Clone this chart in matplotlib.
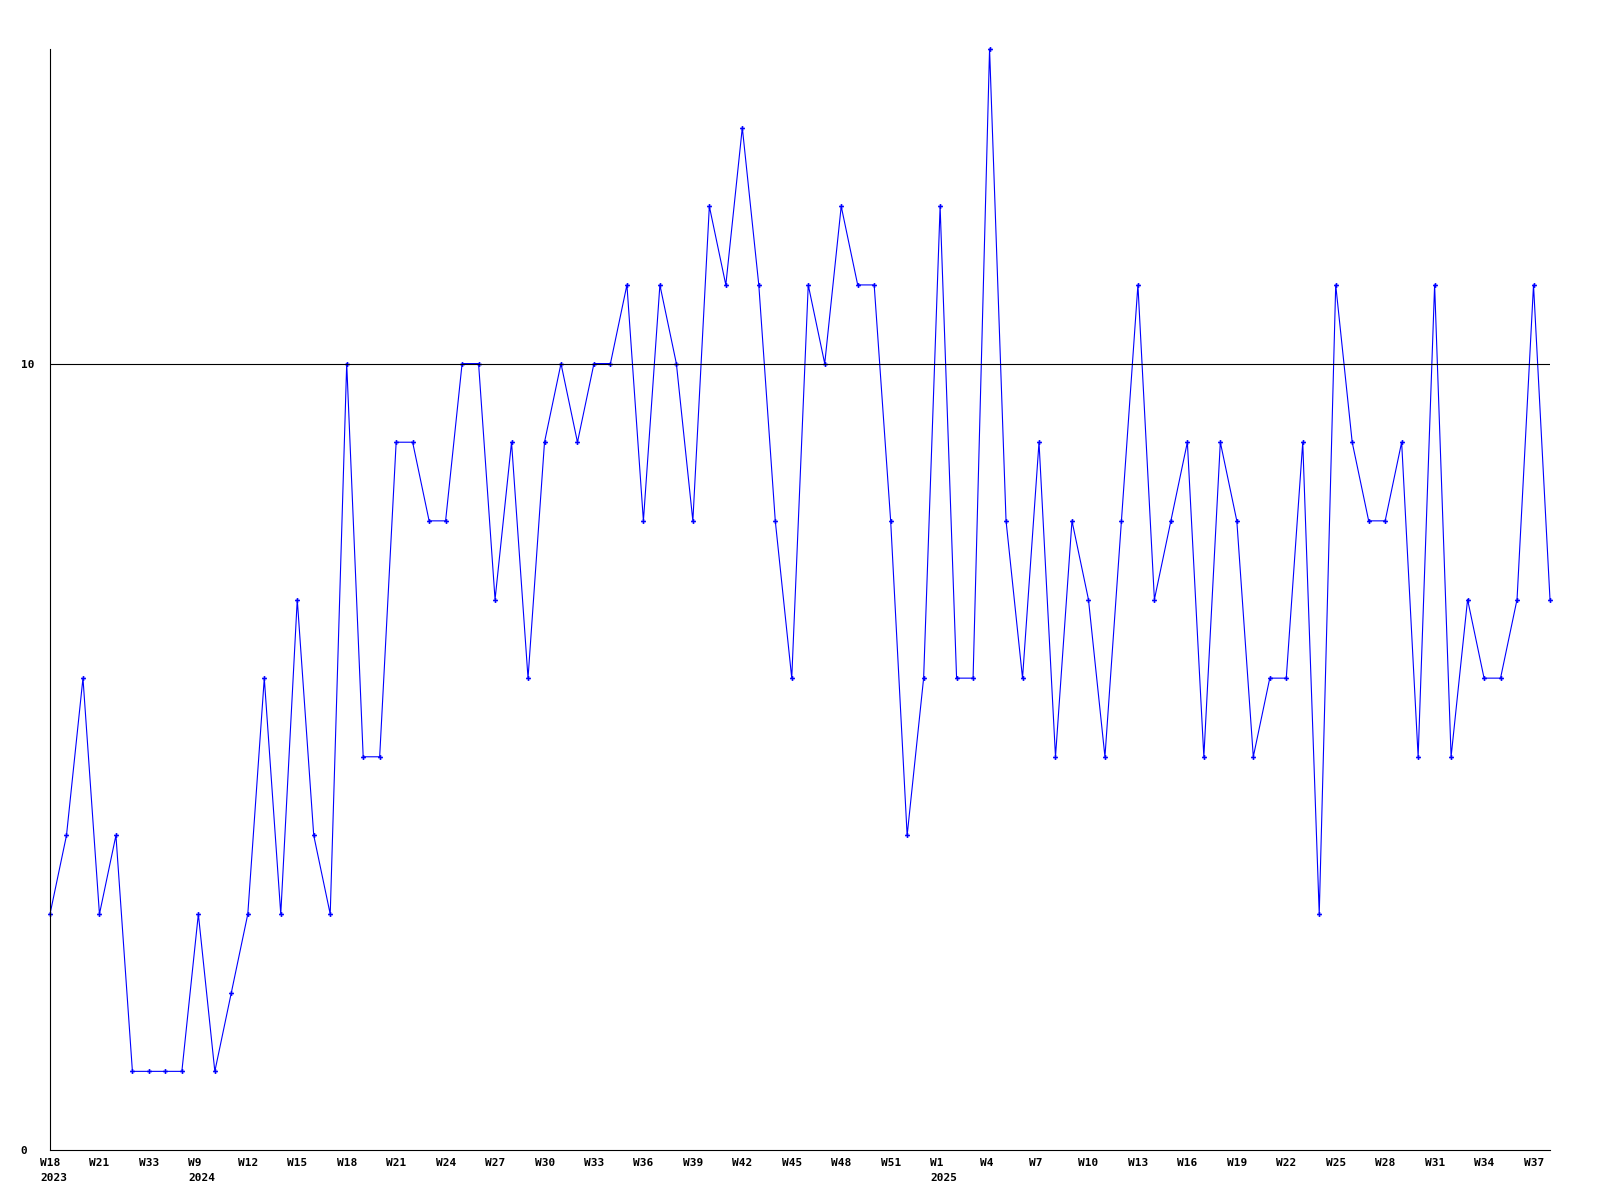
import matplotlib
matplotlib.use("Agg")
import matplotlib.pyplot as plt
from matplotlib.transforms import ScaledTranslation

# weekly counts, one point per week
values = [3, 4, 6, 3, 4, 1, 1, 1, 1, 3, 1, 2, 3, 6, 3, 7, 4, 3, 10, 5,
          5, 9, 9, 8, 8, 10, 10, 7, 9, 6, 9, 10, 9, 10, 10, 11, 8, 11, 10, 8,
          12, 11, 13, 11, 8, 6, 11, 10, 12, 11, 11, 8, 4, 6, 12, 6, 6, 14, 8, 6,
          9, 5, 8, 7, 5, 8, 11, 7, 8, 9, 5, 9, 8, 5, 6, 6, 9, 3, 11, 9,
          8, 8, 9, 5, 11, 5, 7, 6, 6, 7, 11, 7]

tick_labels = ["W18\n2023", "W21", "W33", "W9\n2024", "W12", "W15", "W18", "W21",
               "W24", "W27", "W30", "W33", "W36", "W39", "W42", "W45", "W48",
               "W51", "W1\n2025", "W4", "W7", "W10", "W13", "W16", "W19", "W22",
               "W25", "W28", "W31", "W34", "W37"]
y_ticks = [0, 10]
ref_level = 10

fig = plt.figure(figsize=(16, 12), dpi=100)
ax = fig.add_axes([50 / 1600, 50 / 1200, 1500 / 1600, 1101 / 1200])

x = list(range(len(values)))
ax.plot(x, values, color="#0000ff", linewidth=0.8, marker="P", markersize=3.5,
        markeredgewidth=0, clip_on=False)
ax.axhline(ref_level, color="black", linewidth=0.8)

ax.set_xlim(0, len(values) - 1)
ax.set_ylim(0, 14)

ax.set_xticks(x[::3][:len(tick_labels)])
ax.set_xticklabels(tick_labels, fontfamily="DejaVu Sans Mono", fontsize=8,
                   fontweight="bold", linespacing=1.6)
ax.set_yticks(y_ticks)
ax.set_yticklabels([str(v) for v in y_ticks], fontfamily="DejaVu Sans Mono",
                   fontsize=8, fontweight="bold")
ax.tick_params(axis="both", length=0)
ax.tick_params(axis="x", pad=6)
ax.tick_params(axis="y", pad=21)

shift = ScaledTranslation(-10 / 100, 0, fig.dpi_scale_trans)
for lbl in ax.get_xticklabels():
    lbl.set_verticalalignment("top")
    lbl.set_horizontalalignment("left")
    lbl.set_transform(lbl.get_transform() + shift)
for lbl in ax.get_yticklabels():
    lbl.set_horizontalalignment("left")

ax.spines["top"].set_visible(False)
ax.spines["right"].set_visible(False)
ax.spines["left"].set_linewidth(0.8)
ax.spines["bottom"].set_linewidth(0.8)

fig.savefig("out.png", dpi=100, facecolor="white")
